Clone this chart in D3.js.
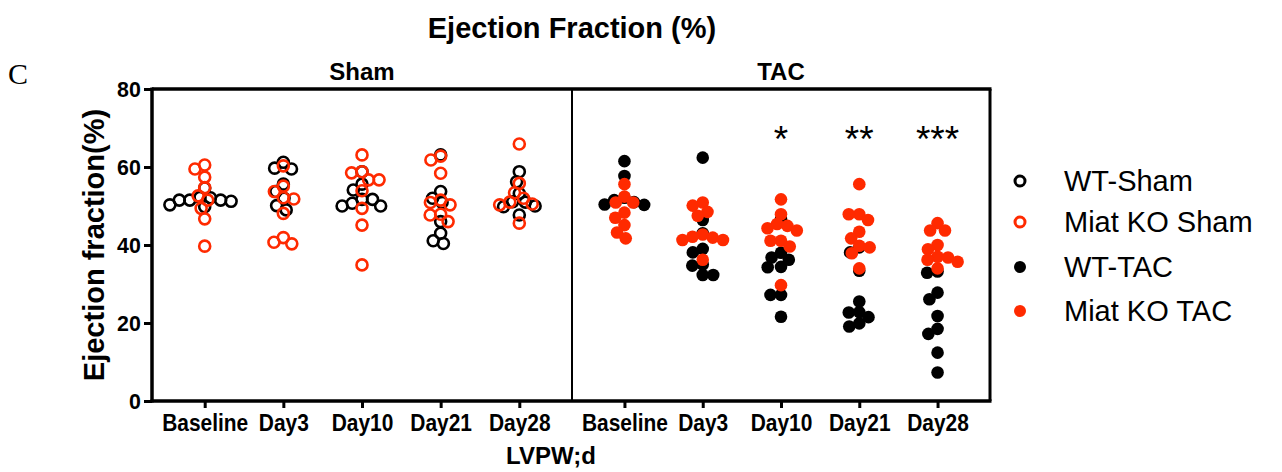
<!DOCTYPE html>
<html>
<head>
<meta charset="utf-8">
<script src="https://cdn.jsdelivr.net/npm/d3@7"></script>
<style>
  body { margin: 0; background: #fff; }
  text { font-family: Arial, "Liberation Sans", sans-serif; }
</style>
</head>
<body>
<div id="chart"></div>
<script>
// categories
const days = ["Baseline", "Day3", "Day10", "Day21", "Day28"];
const panels = ["Sham", "TAC"];
const yTicks = [0, 20, 40, 60, 80];
const tacStars = ["", "", "*", "**", "***"];

// series values, one list per day
const wtSham = [
    [54.6, 52.2, 52.1, 51.5, 51.5, 51.5, 51.2, 50.3, 49.8],
    [61.2, 59.7, 59.5, 55.6, 53.7, 52.0, 50.1, 49.0],
    [58.8, 55.6, 54.1, 51.7, 51.7, 50.7, 50.0, 50.0],
    [63.1, 53.7, 52.0, 50.9, 46.0, 43.0, 41.1, 40.4],
    [58.8, 56.2, 53.2, 51.1, 51.0, 50.0, 49.8, 47.7]
];
const koSham = [
    [60.5, 59.5, 57.4, 54.7, 52.6, 51.5, 49.4, 46.7, 39.7],
    [60.3, 55.1, 53.7, 52.1, 51.8, 48.1, 41.9, 40.7, 40.3],
    [63.1, 58.8, 58.5, 56.7, 56.7, 53.9, 49.4, 45.1, 34.9],
    [62.8, 61.8, 58.4, 51.5, 50.9, 50.3, 47.9, 47.7, 46.0],
    [65.9, 55.8, 53.4, 52.0, 51.0, 50.5, 50.3, 45.6]
];
const wtTac = [
    [61.5, 57.7, 52.1, 51.5, 51.0, 50.4, 50.3],
    [62.4, 46.4, 43.0, 39.0, 38.1, 35.0, 34.7, 32.3, 32.3],
    [46.6, 38.0, 36.8, 36.2, 34.4, 34.3, 27.2, 27.2, 21.6],
    [39.4, 38.1, 33.4, 25.5, 22.8, 22.7, 21.5, 19.9, 19.1],
    [33.2, 32.9, 27.8, 26.1, 21.8, 18.5, 17.2, 12.4, 7.3]
];
const koTac = [
    [55.6, 52.4, 50.9, 50.9, 48.3, 47.0, 45.1, 43.2, 41.7],
    [50.9, 50.1, 48.5, 47.5, 42.7, 42.1, 41.9, 41.3, 41.3, 36.2],
    [51.7, 47.9, 45.4, 44.9, 44.3, 43.7, 41.1, 41.1, 39.6, 29.7],
    [55.6, 47.9, 47.9, 46.4, 43.4, 41.7, 39.8, 39.4, 37.9, 34.0],
    [45.6, 43.7, 43.7, 40.0, 38.9, 37.0, 36.8, 36.2, 35.7, 34.0]
];

const RED = "#ff2a00";
const series = [
    {name: "WT-Sham", values: wtSham, panel: 0, color: "#000", open: true},
    {name: "Miat KO Sham", values: koSham, panel: 0, color: RED, open: true},
    {name: "WT-TAC", values: wtTac, panel: 1, color: "#000", open: false},
    {name: "Miat KO TAC", values: koTac, panel: 1, color: RED, open: false}
];

const width = 1282, height = 472;
const plot = {left: 152, right: 990, top: 89, bottom: 401, split: 572};

const svg = d3.select("#chart").append("svg")
    .attr("width", width)
    .attr("height", height);

const y = d3.scaleLinear().domain([0, 80]).range([plot.bottom, plot.top]);
const xPanels = [
    d3.scalePoint().domain(days).range([plot.left, plot.split]).padding(0.67),
    d3.scalePoint().domain(days).range([plot.split, plot.right]).padding(0.67)
];

// simple beeswarm: closest free spot to the column centre
function swarm(vals, d) {
    const placed = [];
    vals.slice().sort((a, b) => b - a).forEach(v => {
        const py = y(v);
        const bad = placed.filter(p => Math.abs(p.y - py) < d).map(p => {
            const w = Math.sqrt(d * d - (p.y - py) ** 2);
            return [p.dx - w, p.dx + w];
        });
        const cands = [0];
        bad.forEach(b => cands.push(b[0], b[1]));
        cands.sort((a, b) => Math.abs(a) - Math.abs(b));
        const dx = cands.find(c => bad.every(b => c <= b[0] + 1e-6 || c >= b[1] - 1e-6));
        placed.push({v: v, y: py, dx: dx});
    });
    return placed;
}

// frame
const frame = svg.append("g").attr("stroke", "#000").attr("fill", "none");
frame.append("line").attr("x1", plot.left).attr("x2", plot.right + 1.5)
    .attr("y1", plot.top).attr("y2", plot.top).attr("stroke-width", 3.5);
frame.append("line").attr("x1", plot.right).attr("x2", plot.right)
    .attr("y1", plot.top).attr("y2", plot.bottom).attr("stroke-width", 3);
frame.append("line").attr("x1", plot.split).attr("x2", plot.split)
    .attr("y1", plot.top).attr("y2", plot.bottom).attr("stroke-width", 2);

// y axis
const yAxis = svg.append("g")
    .attr("transform", `translate(${plot.left},0)`)
    .call(d3.axisLeft(y).tickValues(yTicks).tickSize(8).tickPadding(4));
yAxis.select(".domain").attr("stroke-width", 3.5).attr("d", `M0,${plot.bottom + 1.5}V${plot.top - 1.5}`);
yAxis.selectAll(".tick line").attr("stroke-width", 3);
yAxis.selectAll(".tick text").attr("font-size", 23).attr("font-weight", "bold")
    .attr("font-family", "Arial, 'Liberation Sans', sans-serif")
    .attr("transform", "scale(0.93,1)");

// x axes
xPanels.forEach((x, i) => {
    const g = svg.append("g")
        .attr("transform", `translate(0,${plot.bottom})`)
        .call(d3.axisBottom(x).tickSize(7).tickPadding(7));
    g.select(".domain").attr("stroke-width", 3.5)
        .attr("d", `M${x.range()[0] - (i === 0 ? 1.5 : 0)},0H${x.range()[1] + (i === 1 ? 1.5 : 0)}`);
    g.selectAll(".tick line").attr("stroke-width", 3);
    g.selectAll(".tick text").attr("font-size", 23).attr("font-weight", "bold")
        .attr("font-family", "Arial, 'Liberation Sans', sans-serif")
        .attr("transform", "scale(0.91,1)");

    // panel titles
    svg.append("text")
        .attr("x", (x.range()[0] + x.range()[1]) / 2)
        .attr("y", 80)
        .attr("text-anchor", "middle")
        .attr("font-size", 24)
        .attr("font-weight", "bold")
        .text(panels[i]);
});

// points
series.forEach(s => {
    const x = xPanels[s.panel];
    const g = svg.append("g");
    s.values.forEach((vals, di) => {
        const cx = x(days[di]);
        g.selectAll(null)
            .data(swarm(vals, 10.5))
            .enter()
            .append("circle")
            .attr("cx", d => cx + d.dx)
            .attr("cy", d => d.y)
            .attr("r", s.open ? 5.5 : 6.3)
            .attr("fill", s.open ? "none" : s.color)
            .attr("stroke", s.open ? s.color : "none")
            .attr("stroke-width", 2.6);
    });
});

// significance stars over TAC
svg.append("g").selectAll("text")
    .data(tacStars)
    .enter()
    .append("text")
    .attr("x", (d, i) => xPanels[1](days[i]))
    .attr("y", 152)
    .attr("text-anchor", "middle")
    .attr("font-size", 37)
    .text(d => d);

// titles
svg.append("text")
    .attr("x", 572).attr("y", 38)
    .attr("text-anchor", "middle")
    .attr("font-size", 29).attr("font-weight", "bold")
    .text("Ejection Fraction (%)");

svg.append("text")
    .attr("transform", `translate(104,${(plot.top + plot.bottom) / 2}) rotate(-90)`)
    .attr("text-anchor", "middle")
    .attr("font-size", 29).attr("font-weight", "bold")
    .text("Ejection fraction(%)");

svg.append("text")
    .attr("x", 551).attr("y", 464)
    .attr("text-anchor", "middle")
    .attr("font-size", 24).attr("font-weight", "bold")
    .text("LVPW;d");

svg.append("text")
    .attr("x", 8).attr("y", 84)
    .attr("font-size", 30)
    .style("font-family", "'Liberation Serif', 'Times New Roman', serif")
    .text("C");

// legend
const legend = svg.append("g").attr("transform", "translate(1020,181)");
const rows = legend.selectAll("g")
    .data(series)
    .enter()
    .append("g")
    .attr("transform", (d, i) => `translate(0,${[0, 41, 86, 130][i]})`);
rows.append("circle")
    .attr("r", d => d.open ? 5 : 6)
    .attr("fill", d => d.open ? "none" : d.color)
    .attr("stroke", d => d.open ? d.color : "none")
    .attr("stroke-width", 3);
rows.append("text")
    .attr("x", 44)
    .attr("dy", "0.35em")
    .attr("font-size", 29)
    .text(d => d.name);
</script>
</body>
</html>
